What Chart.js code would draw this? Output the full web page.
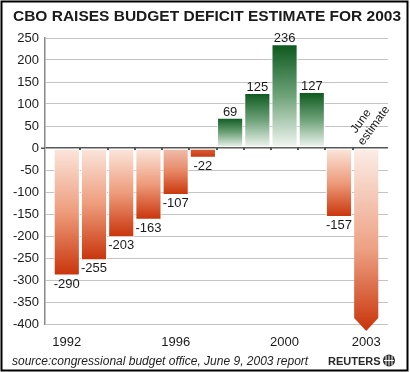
<!DOCTYPE html>
<html><head><meta charset="utf-8">
<script src="https://cdn.jsdelivr.net/npm/chart.js@4/dist/chart.umd.min.js"></script>
<style>html,body{margin:0;padding:0;background:#fff}canvas{display:block}</style>
</head><body>
<canvas id="c" width="410" height="372"></canvas>
<script>
const years = [1992,1993,1994,1995,1996,1997,1998,1999,2000,2001,2002,2003];
const balances = [-290,-255,-203,-163,-107,-22,69,125,236,127,-157,-400];
const xTickYears = [1992,1996,2000,2003];
const yTickValues = [250,200,150,100,50,0,-50,-100,-150,-200,-250,-300,-350,-400];
const titleText = "CBO RAISES BUDGET DEFICIT ESTIMATE FOR 2003";
const sourceText = "source:congressional budget office, June 9, 2003 report";
const creditText = "REUTERS";
const noteLines = ["June", "estimate"];
const estimateIndex = 11;

const FONT = "'Liberation Sans', Arial, Helvetica, sans-serif";

function mix(a, b, t) {
  const pa = [1,3,5].map(i => parseInt(a.substr(i,2),16));
  const pb = [1,3,5].map(i => parseInt(b.substr(i,2),16));
  const p = pa.map((v,i) => Math.round(v + (pb[i]-v)*t));
  return 'rgb(' + p.join(',') + ')';
}

function barFill(ctx) {
  if (ctx.type !== 'data') return '#cccccc';
  const chart = ctx.chart, ys = chart.scales.y;
  const v = ctx.raw.y;
  const y0 = ys.getPixelForValue(0), y1 = ys.getPixelForValue(v);
  if (!isFinite(y0) || !isFinite(y1) || y0 === y1) return '#cccccc';
  const len = Math.abs(y1 - y0);
  const g = chart.ctx.createLinearGradient(0, y0, 0, y1);
  if (v >= 0) {
    g.addColorStop(0, '#f4f8f4');
    g.addColorStop(0.5, '#6fa37a');
    g.addColorStop(1, '#0c581d');
  } else {
    const t = Math.min(0.75, Math.max(0, 1 - len / 60));
    g.addColorStop(0, mix('#fbe7dd', '#c8340a', t));
    g.addColorStop(0.5, mix('#ee9c7c', '#c8340a', t));
    g.addColorStop(1, '#c8340a');
  }
  return g;
}

const decorPlugin = {
  id: 'decor',
  beforeDraw(chart) {
    const c = chart.ctx;
    c.save();
    c.fillStyle = '#ffffff';
    c.fillRect(0, 0, chart.width, chart.height);
    c.restore();
  },
  afterDatasetsDraw(chart) {
    const c = chart.ctx;
    const meta = chart.getDatasetMeta(0);
    const xs = chart.scales.x, ys = chart.scales.y;
    const zero = ys.getPixelForValue(0);
    c.save();
    c.fillStyle = '#555';
    for (let i = 0; i < years.length - 1; i++) {
      const px = xs.getPixelForValue(years[i] + 0.5);
      c.fillRect(Math.round(px) - 1, zero, 2, 2);
    }
    c.fillRect(chart.chartArea.left - 4, zero - 0.5, 4, 1.5);
    const el = meta.data[estimateIndex];
    const p = el.getProps(['x','y','base','width'], true);
    const half = p.width / 2 - 1;
    const left = p.x - half, right = p.x + half;
    const top = p.base + 1;
    const shoulder = p.y - half / 2;
    const tip = p.y + half / 2 + 1;
    const g = c.createLinearGradient(0, top, 0, tip);
    g.addColorStop(0, '#fbece5');
    g.addColorStop(0.55, '#eda083');
    g.addColorStop(1, '#c8340a');
    c.fillStyle = g;
    c.beginPath();
    c.moveTo(left, top);
    c.lineTo(right, top);
    c.lineTo(right, shoulder);
    c.lineTo(p.x, tip);
    c.lineTo(left, shoulder);
    c.closePath();
    c.fill();
    c.font = '13px ' + FONT;
    c.fillStyle = '#1a1a1a';
    c.textAlign = 'center';
    meta.data.forEach((bar, i) => {
      if (i === estimateIndex) return;
      const v = balances[i];
      if (v >= 0) {
        c.textBaseline = 'alphabetic';
        c.fillText(String(v), bar.x, bar.y - 2);
      } else {
        c.textBaseline = 'top';
        c.fillText(String(v), bar.x, bar.y + 2);
      }
    });
    c.save();
    c.translate(p.x - 3, zero - 2);
    c.rotate(-54 * Math.PI / 180);
    c.font = '12px ' + FONT;
    c.textBaseline = 'alphabetic';
    c.textAlign = 'left';
    const w = c.measureText(noteLines[1]).width;
    c.fillText(noteLines[1], 0, 0);
    c.textAlign = 'center';
    c.fillText(noteLines[0], w / 2 - 4, -13);
    c.restore();
    c.restore();
  },
  afterDraw(chart) {
    const c = chart.ctx;
    c.save();
    c.font = 'bold 15.5px ' + FONT;
    c.fillStyle = '#1a1a1a';
    c.textAlign = 'center';
    c.textBaseline = 'alphabetic';
    c.fillText(titleText, 207, 21);
    c.font = 'italic 12px ' + FONT;
    c.textAlign = 'left';
    c.fillStyle = '#222';
    c.fillText(sourceText, 12, 364.5);
    c.font = 'bold 11px ' + FONT;
    c.fillStyle = '#2a2a2a';
    c.fillText(creditText, 328, 365);
    const gx = 389, gy = 360.5;
    c.beginPath(); c.arc(gx, gy, 6, 0, Math.PI * 2); c.fillStyle = '#2a2a2a'; c.fill();
    c.fillStyle = '#fff';
    for (let k = -1; k <= 1; k++) {
      c.fillRect(gx + k * 3 - 0.5, gy - 5, 1, 10);
    }
    c.fillRect(gx - 5, gy - 0.5, 10, 1);
    c.strokeStyle = '#000';
    c.lineWidth = 2;
    c.strokeRect(1.5, 1.5, 406, 369);
    c.restore();
  }
};

new Chart(document.getElementById('c'), {
  type: 'bar',
  data: {
    datasets: [{
      data: years.map((y, i) => ({ x: y, y: balances[i] })),
      backgroundColor: (ctx) => ctx.dataIndex === estimateIndex ? 'rgba(0,0,0,0)' : barFill(ctx),
      borderColor: (ctx) => ctx.dataIndex === estimateIndex ? 'rgba(0,0,0,0)' : '#ffffff',
      borderWidth: 1,
      borderSkipped: false,
      barPercentage: 0.96,
      categoryPercentage: 1
    }]
  },
  plugins: [decorPlugin],
  options: {
    responsive: false,
    animation: false,
    devicePixelRatio: 1,
    layout: { padding: { top: 38, right: 22, left: 0, bottom: 0 } },
    plugins: { legend: { display: false }, tooltip: { enabled: false }, title: { display: false } },
    scales: {
      x: {
        type: 'linear',
        min: 1991.2,
        max: 2003.8,
        offset: false,
        grid: { display: false, offset: false },
        border: { display: false },
        afterBuildTicks: (s) => { s.ticks = xTickYears.map(v => ({ value: v })); },
        afterFit: (s) => { s.height = 48; },
        ticks: {
          autoSkip: false,
          maxRotation: 0,
          padding: 3,
          color: '#1a1a1a',
          font: { family: FONT, size: 13 },
          callback: (v) => String(v)
        }
      },
      y: {
        min: -400,
        max: 250,
        afterBuildTicks: (s) => { s.ticks = yTickValues.map(v => ({ value: v })); },
        afterFit: (s) => { s.width = 45; },
        grid: {
          drawTicks: false,
          color: (ctx) => (ctx.tick && ctx.tick.value === 0) ? '#555555' : '#c4c4c4',
          lineWidth: (ctx) => (ctx.tick && ctx.tick.value === 0) ? 1.5 : 1
        },
        border: { color: '#888888', width: 1.5 },
        ticks: {
          padding: 6,
          color: '#1a1a1a',
          font: { family: FONT, size: 13 }
        }
      }
    }
  }
});
</script>
</body></html>
